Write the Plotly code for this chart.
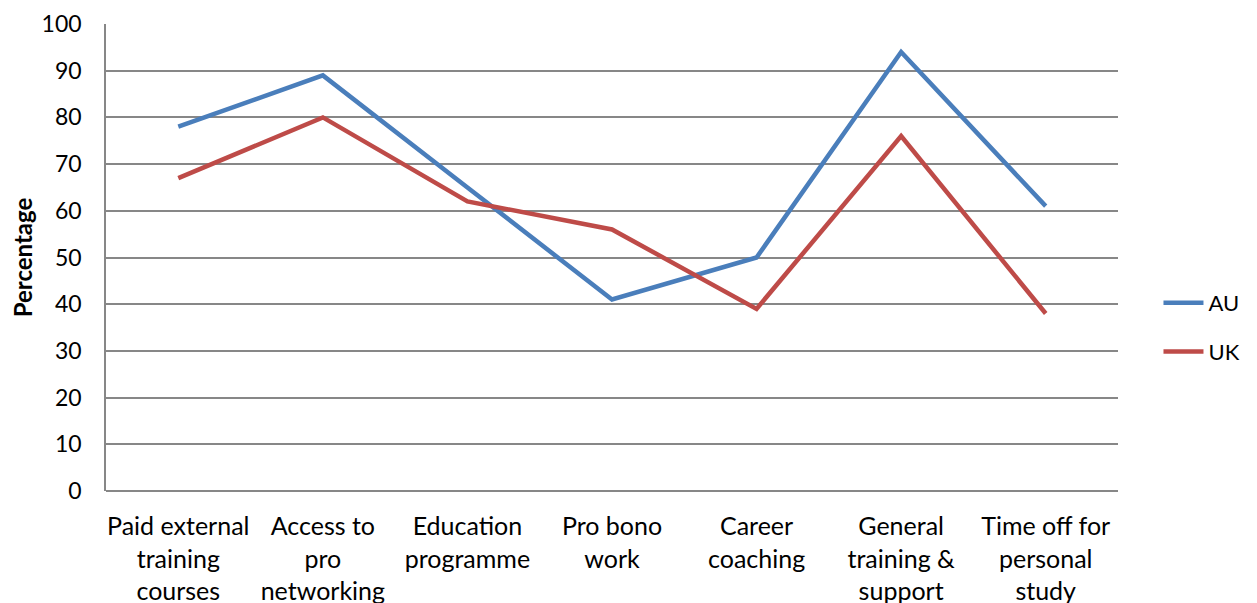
import plotly.graph_objects as go

categories = [
    "Paid external<br>training<br>courses",
    "Access to<br>pro<br>networking",
    "Education<br>programme",
    "Pro bono<br>work",
    "Career<br>coaching",
    "General<br>training &<br>support",
    "Time off for<br>personal<br>study",
]
au_values = [78, 89, 65, 41, 50, 94, 61]
uk_values = [67, 80, 62, 56, 39, 76, 38]

FONT = "Lato, Calibri, sans-serif"

fig = go.Figure()
fig.add_trace(go.Scatter(
    x=categories, y=au_values, name="AU", mode="lines", legendgroup="au",
    line=dict(color="#4A7EBB", width=4.5),
))
fig.add_trace(go.Scatter(
    x=categories, y=uk_values, name="UK", mode="lines", legendgroup="uk",
    line=dict(color="#BE4B48", width=4.5),
))

fig.update_layout(
    width=1257, height=603,
    paper_bgcolor="white", plot_bgcolor="white",
    margin=dict(l=98, r=147, t=16, b=120, autoexpand=False),
    font=dict(family=FONT, size=22, color="black"),
    legend=dict(x=1.04, y=0.35, yanchor="middle", xanchor="left",
                font=dict(size=22), tracegroupgap=17, itemwidth=40),
    xaxis=dict(
        showgrid=False, showline=False, zeroline=False,
        tickangle=0, ticklabelstandoff=18, automargin=False,
        tickfont=dict(size=25),
        range=[-0.5, 6.5],
    ),
    yaxis=dict(
        range=[0, 100], dtick=10, automargin=False,
        showgrid=True, gridcolor="#878787", gridwidth=1.5,
        showline=True, linecolor="#878787", linewidth=1.5,
        zeroline=True, zerolinecolor="#878787", zerolinewidth=1.5,
        ticklabelstandoff=18, tickfont=dict(size=23),
        title=dict(text="<b>Percentage</b>", font=dict(size=24), standoff=36),
    ),
)

fig.write_html("out.html")
